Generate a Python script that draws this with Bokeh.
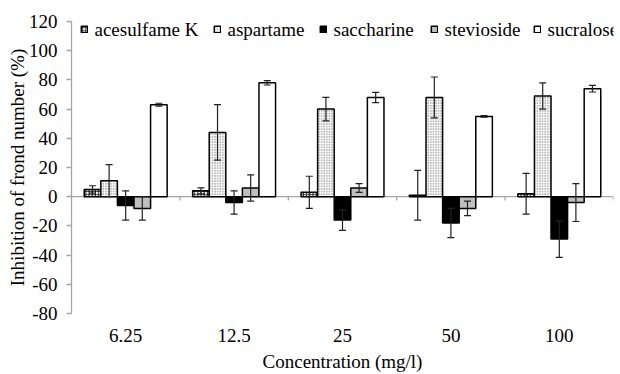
from bokeh.plotting import figure
from bokeh.models import (ColumnDataSource, Range1d, FixedTicker, Whisker, TeeHead,
                          Span, Legend, LegendItem, Label)
from bokeh.embed import file_html
from bokeh.resources import INLINE

# ---- data ----
categories = ["6.25", "12.5", "25", "50", "100"]
series = ["acesulfame K", "aspartame", "saccharine", "stevioside", "sucralose"]

acesulfame = [5, 4, 3, 1, 2]
acesulfame_err = [2.5, 2, 11, 17, 14]
aspartame = [11, 44, 60, 68, 69]
aspartame_err = [11, 19, 8, 14, 9]
saccharine = [-6, -4, -16, -18, -29]
saccharine_err = [10, 8, 7, 10, 12.5]
stevioside = [-8, 6, 6, -8, -4]
stevioside_err = [8, 9, 3, 5, 13]
sucralose = [63, 78, 68, 55, 74]
sucralose_err = [1, 1.5, 3.5, 0.5, 2.3]

yticks = [-80, -60, -40, -20, 0, 20, 40, 60, 80, 100, 120]

values = [acesulfame, aspartame, saccharine, stevioside, sucralose]
errors = [acesulfame_err, aspartame_err, saccharine_err, stevioside_err, sucralose_err]

styles = [
    dict(fill_color="white", hatch_pattern="cross", hatch_color="black", hatch_scale=3.2, hatch_weight=0.9),
    dict(fill_color="white", hatch_pattern="dot", hatch_color="#555555", hatch_scale=2.6, hatch_weight=1.0),
    dict(fill_color="black"),
    dict(fill_color="#bfbfbf"),
    dict(fill_color="white"),
]
# legend swatch offsets (px from the left edge of the plot area)
legend_x = [9, 142, 248, 359, 462]

FONT = "Liberation Serif"
GRAY = "#a6a6a6"

n = len(categories)
p = figure(width=620, height=374, output_backend="svg", toolbar_location=None,
           x_range=Range1d(0, n), y_range=Range1d(yticks[0], yticks[-1]),
           min_border_left=71, min_border_right=7, min_border_top=21, min_border_bottom=59)
p.outline_line_color = None
p.xgrid.grid_line_color = None
p.ygrid.grid_line_color = None
p.background_fill_color = "white"

bw = 0.153
centers = [i + 0.5 for i in range(n)]

# zero line with boundary ticks
p.add_layout(Span(location=0, dimension="width", line_color=GRAY, line_width=1.3, level="underlay"))
bounds = [float(i) for i in range(1, n + 1)]
p.segment(x0=bounds, x1=bounds, y0=[0] * len(bounds), y1=[-2.6] * len(bounds),
          line_color=GRAY, line_width=1.3)

for j, (name, vals, errs, st) in enumerate(zip(series, values, errors, styles)):
    xs = [c + (j - 2) * bw for c in centers]
    src = ColumnDataSource(dict(x=xs, top=vals,
                                upper=[v + e for v, e in zip(vals, errs)],
                                lower=[v - e for v, e in zip(vals, errs)]))
    r = p.vbar(x="x", top="top", bottom=0, width=bw, source=src,
               line_color="black", line_width=1.5, **st)
    w = Whisker(base="x", upper="upper", lower="lower", source=src,
                line_color="#222222", line_width=1.2, level="overlay",
                upper_head=TeeHead(size=7, line_color="#222222", line_width=1.2),
                lower_head=TeeHead(size=7, line_color="#222222", line_width=1.2))
    p.add_layout(w)
    # legend swatch
    lg = Legend(items=[LegendItem(label=" ", renderers=[r])], location=(legend_x[j], 280),
                glyph_width=8, glyph_height=8, label_standoff=0, spacing=0,
                padding=0, margin=0, background_fill_alpha=0, border_line_color=None,
                label_text_font_size="1px", label_width=0, label_height=8)
    p.add_layout(lg)
    # legend text
    p.add_layout(Label(x=p.x_range.start, y=yticks[-1], x_offset=legend_x[j] + 14, y_offset=-8,
                       text=name, text_font=FONT, text_font_size="19px", text_color="black",
                       text_baseline="middle", text_align="left"))

# y axis
p.yaxis.ticker = FixedTicker(ticks=yticks)
p.yaxis.major_label_overrides = {t: str(t) for t in yticks}
p.yaxis.axis_line_color = GRAY
p.yaxis.axis_line_width = 1.3
p.yaxis.major_tick_line_color = GRAY
p.yaxis.major_tick_line_width = 1.3
p.yaxis.major_tick_out = 5
p.yaxis.major_tick_in = 0
p.yaxis.minor_tick_line_color = None
p.yaxis.major_label_text_font = FONT
p.yaxis.major_label_text_font_size = "19px"
p.yaxis.major_label_text_color = "black"
p.yaxis.major_label_standoff = 9
p.yaxis.axis_label = "Inhibition of frond number (%)"
p.yaxis.axis_label_text_font = FONT
p.yaxis.axis_label_text_font_size = "19px"
p.yaxis.axis_label_text_font_style = "normal"
p.yaxis.axis_label_text_color = "black"
p.yaxis.axis_label_standoff = -2

# x axis
p.xaxis.ticker = FixedTicker(ticks=centers)
p.xaxis.major_label_overrides = {c: lab for c, lab in zip(centers, categories)}
p.xaxis.axis_line_color = None
p.xaxis.major_tick_line_color = None
p.xaxis.minor_tick_line_color = None
p.xaxis.major_label_text_font = FONT
p.xaxis.major_label_text_font_size = "19px"
p.xaxis.major_label_text_color = "black"
p.xaxis.major_label_standoff = 9
p.xaxis.axis_label = "Concentration (mg/l)"
p.xaxis.axis_label_text_font = FONT
p.xaxis.axis_label_text_font_size = "19px"
p.xaxis.axis_label_text_font_style = "normal"
p.xaxis.axis_label_text_color = "black"
p.xaxis.axis_label_standoff = 6

open("out.html", "w").write(file_html(p, INLINE))
